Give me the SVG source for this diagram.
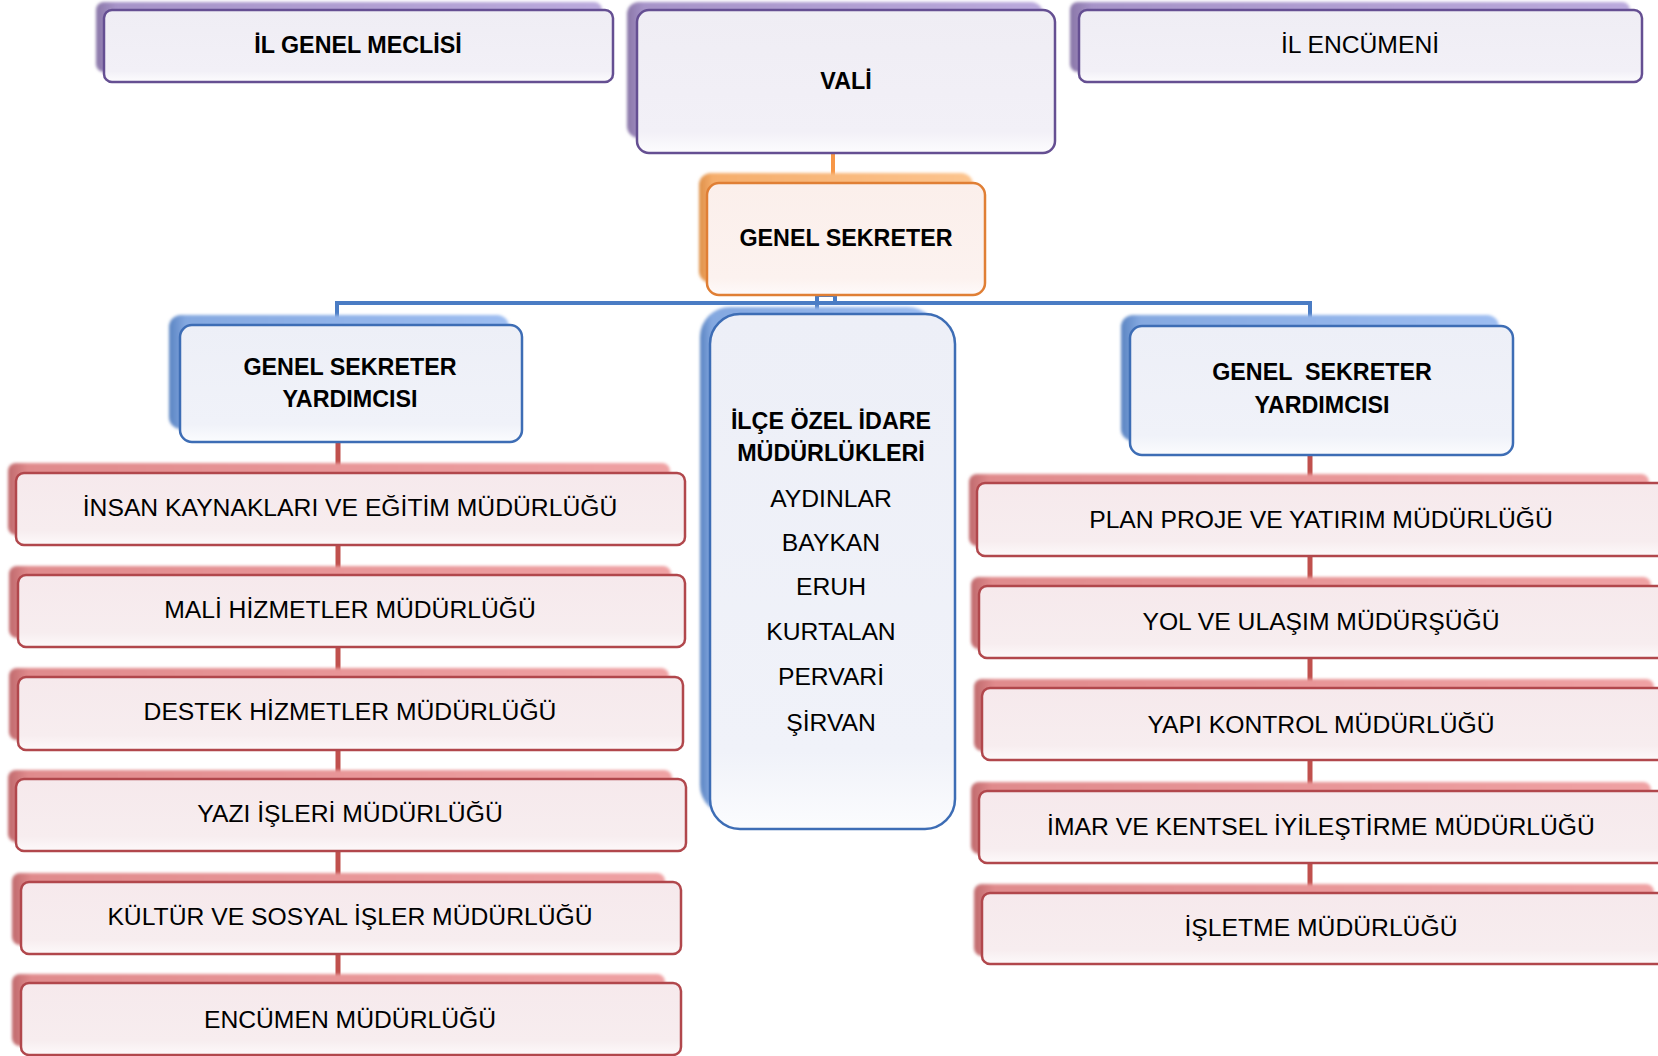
<svg xmlns="http://www.w3.org/2000/svg" width="1658" height="1056" viewBox="0 0 1658 1056">
<style>
text{font-family:"Liberation Sans",Arial,sans-serif;fill:#000;text-anchor:middle}
.b{font-weight:bold;font-size:23.3px}
.r{font-size:24.7px}
.fp{fill:url(#pFill);stroke:#654f92;stroke-width:2.5}
.fo{fill:url(#oFill);stroke:#e07f35;stroke-width:2.5}
.fb{fill:url(#bFill);stroke:#3d6db5;stroke-width:2.5}
.fr{fill:url(#rFill);stroke:#b1474c;stroke-width:2.5}
.sp{fill:url(#pSh);filter:url(#blur)}
.so{fill:url(#oSh);filter:url(#blur)}
.sb{fill:url(#bSh);filter:url(#blur)}
.sr{fill:url(#rSh);filter:url(#blur)}
.cb{fill:none;stroke:#4a7cc4;stroke-width:4}
.co{fill:none;stroke:#f79646;stroke-width:4}
.cr{fill:none;stroke:#c0504d;stroke-width:5}
</style>
<defs>
<filter id="blur" x="-5%" y="-10%" width="110%" height="120%"><feGaussianBlur stdDeviation="1.5"/></filter>
<linearGradient id="pSh" x1="0" y1="0" x2="1" y2="0"><stop offset="0" stop-color="#8a77a8"/><stop offset="0.04" stop-color="#a693c8"/><stop offset="1" stop-color="#baa9dc"/></linearGradient>
<linearGradient id="oSh" x1="0" y1="0" x2="1" y2="0"><stop offset="0" stop-color="#de9048"/><stop offset="0.05" stop-color="#f5ad6b"/><stop offset="1" stop-color="#fcc48e"/></linearGradient>
<linearGradient id="bSh" x1="0" y1="0" x2="1" y2="0"><stop offset="0" stop-color="#5a84c2"/><stop offset="0.05" stop-color="#84a8e0"/><stop offset="1" stop-color="#9dbdf1"/></linearGradient>
<linearGradient id="rSh" x1="0" y1="0" x2="1" y2="0"><stop offset="0" stop-color="#c06a6d"/><stop offset="0.03" stop-color="#e08a8c"/><stop offset="1" stop-color="#efa1a3"/></linearGradient>
<linearGradient id="pFill" x1="0" y1="0" x2="0" y2="1"><stop offset="0" stop-color="#efedf4"/><stop offset="0.85" stop-color="#f2f0f7"/><stop offset="1" stop-color="#fdfcfe"/></linearGradient>
<linearGradient id="oFill" x1="0" y1="0" x2="0" y2="1"><stop offset="0" stop-color="#fbefeb"/><stop offset="0.85" stop-color="#fcf2ef"/><stop offset="1" stop-color="#fefafa"/></linearGradient>
<linearGradient id="bFill" x1="0" y1="0" x2="0" y2="1"><stop offset="0" stop-color="#edeff7"/><stop offset="0.85" stop-color="#f0f2f9"/><stop offset="1" stop-color="#fbfcfe"/></linearGradient>
<linearGradient id="rFill" x1="0" y1="0" x2="0" y2="1"><stop offset="0" stop-color="#f6e9ec"/><stop offset="0.8" stop-color="#f7edef"/><stop offset="1" stop-color="#fdf9fa"/></linearGradient>
</defs>
<rect width="1658" height="1056" fill="#fff"/>

<g id="connectors">
<path class="co" d="M833 150 V184"/>
<path class="cb" d="M337 318 V303 H1310 V318"/>
<path class="cb" d="M817 310 V295 H835 V303"/>
<path class="cr" d="M338 440 V985"/>
<path class="cr" d="M1310 453 V895"/>
</g>

<g id="il-genel-meclisi">
<rect class="sp" x="96" y="2" width="506" height="70" rx="8"/>
<rect class="fp" x="104" y="10" width="509" height="72" rx="8"/>
<text class="b" x="358" y="53">İL GENEL MECLİSİ</text>
</g>
<g id="vali">
<rect class="sp" x="627" y="2" width="416" height="136" rx="12"/>
<rect class="fp" x="637" y="10" width="418" height="143" rx="12"/>
<text class="b" x="846" y="89">VALİ</text>
</g>
<g id="il-encumeni">
<rect class="sp" x="1070" y="2" width="560" height="70" rx="8"/>
<rect class="fp" x="1079" y="10" width="563" height="72" rx="8"/>
<text class="r" x="1360" y="53">İL ENCÜMENİ</text>
</g>
<g id="genel-sekreter">
<rect class="so" x="699" y="173" width="274" height="110" rx="12"/>
<rect class="fo" x="707" y="183" width="278" height="112" rx="12"/>
<text class="b" x="846" y="246">GENEL SEKRETER</text>
</g>
<g id="gsy-left">
<rect class="sb" x="169" y="315" width="340" height="114" rx="12"/>
<rect class="fb" x="180" y="325" width="342" height="117" rx="12"/>
<text class="b" x="350" y="375">GENEL SEKRETER</text>
<text class="b" x="350" y="407">YARDIMCISI</text>
</g>
<g id="ilce">
<rect class="sb" x="700" y="307" width="238" height="508" rx="30"/>
<rect class="fb" x="710" y="314" width="245" height="515" rx="30"/>
<text class="b" x="831" y="429">İLÇE ÖZEL İDARE</text>
<text class="b" x="831" y="461">MÜDÜRLÜKLERİ</text>
<text class="r" x="831" y="507">AYDINLAR</text>
<text class="r" x="831" y="551">BAYKAN</text>
<text class="r" x="831" y="595">ERUH</text>
<text class="r" x="831" y="640">KURTALAN</text>
<text class="r" x="831" y="685">PERVARİ</text>
<text class="r" x="831" y="731">ŞİRVAN</text>
</g>
<g id="gsy-right">
<rect class="sb" x="1121" y="315" width="378" height="126" rx="12"/>
<rect class="fb" x="1130" y="326" width="383" height="129" rx="12"/>
<text class="b" x="1322" y="380" xml:space="preserve">GENEL  SEKRETER</text>
<text class="b" x="1322" y="413">YARDIMCISI</text>
</g>

<g id="insan-kaynaklari">
<rect class="sr" x="8" y="463" width="662" height="72" rx="8"/>
<rect class="fr" x="16" y="473" width="669" height="72" rx="8"/>
<text class="r" x="350" y="516">İNSAN KAYNAKLARI VE EĞİTİM MÜDÜRLÜĞÜ</text>
</g>
<g id="mali-hizmetler">
<rect class="sr" x="9" y="566" width="662" height="72" rx="8"/>
<rect class="fr" x="18" y="575" width="667" height="72" rx="8"/>
<text class="r" x="350" y="618">MALİ HİZMETLER MÜDÜRLÜĞÜ</text>
</g>
<g id="destek-hizmetler">
<rect class="sr" x="9" y="668" width="660" height="72" rx="8"/>
<rect class="fr" x="18" y="677" width="665" height="73" rx="8"/>
<text class="r" x="350" y="720">DESTEK HİZMETLER MÜDÜRLÜĞÜ</text>
</g>
<g id="yazi-isleri">
<rect class="sr" x="8" y="770" width="664" height="72" rx="8"/>
<rect class="fr" x="16" y="779" width="670" height="72" rx="8"/>
<text class="r" x="350" y="822">YAZI İŞLERİ MÜDÜRLÜĞÜ</text>
</g>
<g id="kultur-sosyal">
<rect class="sr" x="12" y="873" width="653" height="72" rx="8"/>
<rect class="fr" x="21" y="882" width="660" height="72" rx="8"/>
<text class="r" x="350" y="925">KÜLTÜR VE SOSYAL İŞLER MÜDÜRLÜĞÜ</text>
</g>
<g id="encumen">
<rect class="sr" x="12" y="974" width="653" height="72" rx="8"/>
<rect class="fr" x="21" y="983" width="660" height="72" rx="8"/>
<text class="r" x="350" y="1028">ENCÜMEN MÜDÜRLÜĞÜ</text>
</g>

<g id="plan-proje">
<rect class="sr" x="969" y="474" width="680" height="72" rx="8"/>
<rect class="fr" x="977" y="483" width="690" height="73" rx="8"/>
<text class="r" x="1321" y="528">PLAN PROJE VE YATIRIM MÜDÜRLÜĞÜ</text>
</g>
<g id="yol-ulasim">
<rect class="sr" x="971" y="577" width="680" height="72" rx="8"/>
<rect class="fr" x="979" y="586" width="690" height="72" rx="8"/>
<text class="r" x="1321" y="630">YOL VE ULAŞIM MÜDÜRŞÜĞÜ</text>
</g>
<g id="yapi-kontrol">
<rect class="sr" x="974" y="679" width="680" height="72" rx="8"/>
<rect class="fr" x="982" y="688" width="690" height="72" rx="8"/>
<text class="r" x="1321" y="733">YAPI KONTROL MÜDÜRLÜĞÜ</text>
</g>
<g id="imar-kentsel">
<rect class="sr" x="971" y="782" width="680" height="72" rx="8"/>
<rect class="fr" x="979" y="791" width="690" height="72" rx="8"/>
<text class="r" x="1321" y="835">İMAR VE KENTSEL İYİLEŞTİRME MÜDÜRLÜĞÜ</text>
</g>
<g id="isletme">
<rect class="sr" x="974" y="884" width="680" height="72" rx="8"/>
<rect class="fr" x="982" y="893" width="690" height="71" rx="8"/>
<text class="r" x="1321" y="936">İŞLETME MÜDÜRLÜĞÜ</text>
</g>
</svg>
